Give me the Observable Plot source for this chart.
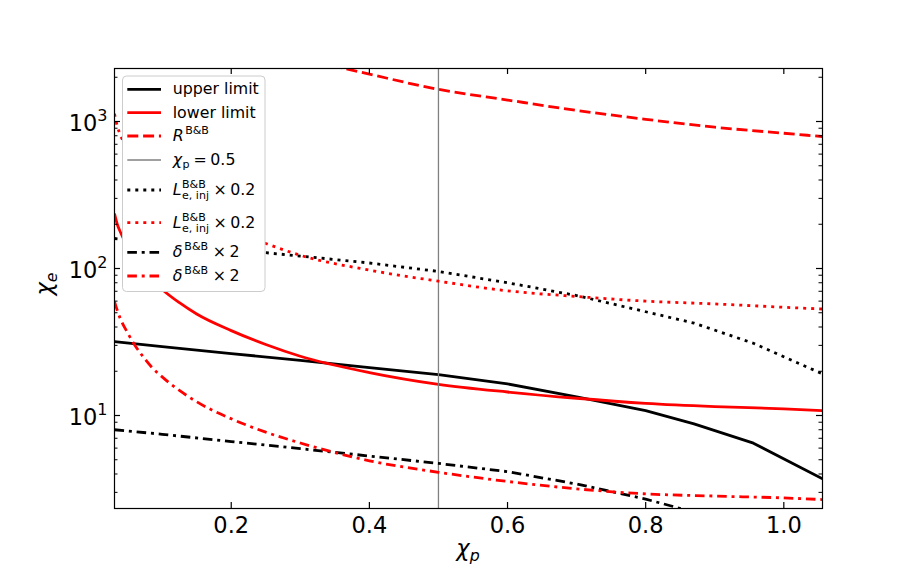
<!DOCTYPE html>
<html><head><meta charset="utf-8">
<script src="https://cdn.jsdelivr.net/npm/d3@7"></script>
<script src="https://cdn.jsdelivr.net/npm/@observablehq/plot@0.6"></script>
<style>body{margin:0;background:white;} svg{display:block}</style>
</head><body><div id="chart"></div>
<script>
// ---- data ----
const xBlack      = [0.031, 0.1, 0.2, 0.3, 0.4, 0.5, 0.6, 0.7, 0.8, 0.87, 0.956, 1.056];
const upperLimit  = [31.8, 29.4, 26.4, 23.7, 21.2, 19.0, 16.4, 13.4, 10.8, 8.78, 6.48, 3.71];
const lInjBlack   = [160, 149.5, 135, 121.5, 109, 95.5, 80, 65.5, 50.8, 42.5, 31, 19.2];
const deltaBlack  = [8.0, 7.45, 6.65, 5.95, 5.3, 4.72, 4.15, 3.42, 2.7, 2.2, 1.62, 0.93];

const xRed        = [0.031, 0.035, 0.04, 0.05, 0.06, 0.07, 0.085, 0.1, 0.125, 0.15, 0.2, 0.25, 0.3, 0.4, 0.5, 0.6, 0.7, 0.8, 0.9, 1.0, 1.056];
const lowerLimit  = [236, 200, 175, 140, 117, 101, 84, 72, 58.5, 49, 37.8, 30.4, 25.3, 19.6, 16.3, 14.45, 13.1, 12.1, 11.5, 11.1, 10.8];
const lInjRed     = [1130, 930, 800, 650, 550, 480, 400, 345, 280, 235, 182, 148, 123, 97.5, 82, 70.5, 64.5, 60, 57.4, 54.5, 53];
const deltaRed    = [59.6, 52, 45, 36.5, 30.3, 26, 21.3, 18.3, 14.8, 12.4, 9.5, 7.7, 6.5, 4.92, 4.11, 3.56, 3.17, 2.93, 2.83, 2.75, 2.68];

const xR          = [0.3, 0.4, 0.5, 0.6, 0.7, 0.8, 0.9, 1.0, 1.056];
const rBB         = [2700, 2100, 1655, 1400, 1190, 1035, 915, 832, 790];

const chiP = 0.5;
const xTicks  = [0.2, 0.4, 0.6, 0.8, 1.0];
const yMajor  = [10, 100, 1000];
const yMinor  = [3,4,5,6,7,8,9,20,30,40,50,60,70,80,90,200,300,400,500,600,700,800,900,2000];

// ---- layout ----
const W = 913, H = 571, mL = 114, mR = 91, mT = 68, mB = 63;
const fw = W - mL - mR, fh = H - mT - mB;
const LW = 2.8;
const DASH = "11,4.8", DOT = "3,5", DASHDOT = "9.6,4.8,3,4.8";
const RED = "#ff0000";

const rows = (xs, ys) => xs.map((x, i) => ({x, y: ys[i]}));

const series = [
  {label: "upper", xs: xBlack, ys: upperLimit, stroke: "black", dash: null, curve: "linear"},
  {label: "lower", xs: xRed, ys: lowerLimit, stroke: RED, dash: null, curve: "monotone-x"},
  {label: "R", xs: xR, ys: rBB, stroke: RED, dash: DASH, curve: "monotone-x"},
  {label: "Lb", xs: xBlack, ys: lInjBlack, stroke: "black", dash: DOT, curve: "linear"},
  {label: "Lr", xs: xRed, ys: lInjRed, stroke: RED, dash: DOT, curve: "monotone-x"},
  {label: "db", xs: xBlack, ys: deltaBlack, stroke: "black", dash: DASHDOT, curve: "linear"},
  {label: "dr", xs: xRed, ys: deltaRed, stroke: RED, dash: DASHDOT, curve: "monotone-x"}
];

const lineMark = s => Plot.line(rows(s.xs, s.ys), {
  x: "x", y: "y", stroke: s.stroke, strokeWidth: LW, strokeDasharray: s.dash,
  curve: s.curve, clip: true, strokeLinecap: "butt", strokeLinejoin: "round"
});

const marks = [
  lineMark(series[0]), lineMark(series[1]), lineMark(series[2]),
  Plot.ruleX([chiP], {stroke: "#808080", strokeWidth: 1.3}),
  lineMark(series[3]), lineMark(series[4]), lineMark(series[5]), lineMark(series[6]),
  // inward ticks on all four sides
  Plot.ruleX(xTicks, {stroke: "black", strokeWidth: 1.2, insetTop: fh - 6}),
  Plot.ruleX(xTicks, {stroke: "black", strokeWidth: 1.2, insetBottom: fh - 6}),
  Plot.ruleY(yMajor, {stroke: "black", strokeWidth: 1.2, insetRight: fw - 6}),
  Plot.ruleY(yMajor, {stroke: "black", strokeWidth: 1.2, insetLeft: fw - 6}),
  Plot.ruleY(yMinor, {stroke: "black", strokeWidth: 1, insetRight: fw - 3.5}),
  Plot.ruleY(yMinor, {stroke: "black", strokeWidth: 1, insetLeft: fw - 3.5}),
  Plot.frame({stroke: "black", strokeWidth: 1.2})
];

const svg = Plot.plot({
  width: W, height: H,
  marginLeft: mL, marginRight: mR, marginTop: mT, marginBottom: mB,
  style: {fontFamily: "DejaVu Sans, sans-serif", fontSize: "22.5px", background: "white", color: "black", overflow: "visible"},
  x: {domain: [0.031, 1.056], ticks: xTicks, tickFormat: d => d.toFixed(1), tickSize: 0, tickPadding: 9, label: null},
  y: {type: "log", domain: [2.33, 2294], ticks: yMajor, tickFormat: d => "10^" + Math.round(Math.log10(d)), tickSize: 0, tickPadding: 7, label: null},
  marks
});
document.getElementById("chart").appendChild(svg);

const root = d3.select(svg);

// superscript exponents on the y tick labels
root.selectAll("text").each(function () {
  const m = /^10\^(\d+)$/.exec(this.textContent);
  if (!m) return;
  const t = d3.select(this);
  t.text(null);
  t.append("tspan").attr("dy", 2).text("10");
  t.append("tspan").attr("font-size", 16).attr("dy", -9.5).text(m[1]);
});

// ---- math-ish text helper ----
function mathText(parent, x, y, segs, base) {
  let cx = x, segStart = x;
  for (const s of segs) {
    const size = s.small ? base * 0.7 : base;
    const start = s.stack ? segStart : cx + (s.gap || 0);
    const t = parent.append("text")
      .attr("x", start).attr("y", y + (s.dy || 0))
      .attr("font-size", size)
      .attr("text-anchor", "start")
      .attr("font-style", s.it ? "italic" : null)
      .text(s.t);
    const w = t.node().getComputedTextLength();
    if (s.stack) cx = Math.max(cx, start + w);
    else { segStart = start; cx = start + w; }
  }
  return cx - x;
}

const group = () => root.append("g")
  .attr("font-family", "DejaVu Sans, sans-serif")
  .attr("text-anchor", "start")
  .attr("fill", "black");

// ---- axis labels ----
const xl = group();
const xlw = mathText(xl, 0, 0, [{t: "χ", it: true}, {t: "p", it: true, small: true, dy: 4.5}], 22.5);
xl.attr("transform", `translate(${(mL + W - mR) / 2 - xlw / 2},556)`);

const yl = group();
const ylw = mathText(yl, 0, 0, [{t: "χ", it: true}, {t: "e", it: true, small: true, dy: 4.5}], 22.5);
yl.attr("transform", `translate(52,${284 + ylw / 2}) rotate(-90)`);

// ---- legend ----
const FS = 15.8;
const lg = group();
lg.append("rect").attr("x", 122.5).attr("y", 76).attr("width", 142.5).attr("height", 215.5)
  .attr("rx", 4).attr("fill", "white").attr("stroke", "#cccccc").attr("stroke-width", 1);

const sup = (t, gap = 1.5) => ({t, small: true, dy: -7, gap});
const times = [{t: "×", gap: 4.5}, {t: "0.2", gap: 3.5}];
const legendItems = [
  {y: 89.3, stroke: "black", dash: null, w: LW, segs: [{t: "upper limit"}]},
  {y: 112.7, stroke: RED, dash: null, w: LW, segs: [{t: "lower limit"}]},
  {y: 136, stroke: RED, dash: DASH, w: LW, segs: [{t: "R", it: true}, sup("B&B")]},
  {y: 160, stroke: "#808080", dash: null, w: 1.3, segs: [{t: "χ", it: true}, {t: "p", small: true, dy: 2.5, gap: 0.5}, {t: "=", gap: 4}, {t: "0.5", gap: 3.5}]},
  {y: 190, stroke: "black", dash: DOT, w: LW, segs: [{t: "L", it: true}, sup("B&B", 0.5), {t: "e, inj", small: true, dy: 4, stack: true}, ...times]},
  {y: 222.7, stroke: RED, dash: DOT, w: LW, segs: [{t: "L", it: true}, sup("B&B", 0.5), {t: "e, inj", small: true, dy: 4, stack: true}, ...times]},
  {y: 252.3, stroke: "black", dash: DASHDOT, w: LW, segs: [{t: "δ", it: true}, sup("B&B", 2), {t: "×", gap: 4.5}, {t: "2", gap: 3.5}]},
  {y: 276, stroke: RED, dash: DASHDOT, w: LW, segs: [{t: "δ", it: true}, sup("B&B", 2), {t: "×", gap: 4.5}, {t: "2", gap: 3.5}]}
];
for (const it of legendItems) {
  lg.append("line").attr("x1", 127.3).attr("x2", 161).attr("y1", it.y).attr("y2", it.y)
    .attr("stroke", it.stroke).attr("stroke-width", it.w)
    .attr("stroke-dasharray", it.dash).attr("stroke-linecap", "butt");
  mathText(lg, 172.7, it.y + 5, it.segs, FS);
}
</script>
</body></html>
